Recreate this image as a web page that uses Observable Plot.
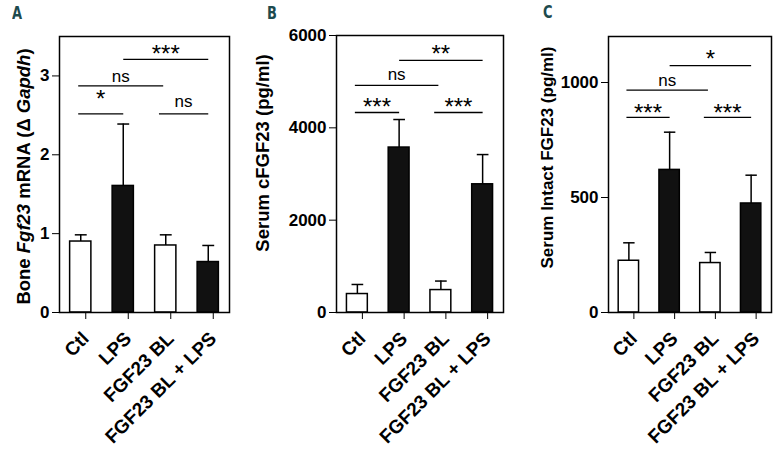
<!DOCTYPE html>
<html>
<head>
<meta charset="utf-8">
<script src="https://cdn.jsdelivr.net/npm/d3@7"></script>
<script src="https://cdn.jsdelivr.net/npm/@observablehq/plot@0.6"></script>
<style>
  body { margin: 0; background: white; }
  #wrap { position: relative; width: 779px; height: 454px; background: white; overflow: hidden; }
  .pnl { position: absolute; top: 0; }
  .pnl svg { overflow: visible; }
  .letter { position: absolute; font-family: "DejaVu Sans Condensed", "DejaVu Sans", sans-serif; font-weight: bold; font-size: 17px; line-height: 17px; color: #1d4a4e; transform: scaleX(0.85); transform-origin: left top; }
</style>
</head>
<body>
<div id="wrap"></div>
<script>
// ---------- data ----------
const groups = ["Ctl", "LPS", "FGF23 BL", "FGF23 BL + LPS"];
const hasLPS = [false, true, false, true];

// Panel A: Bone Fgf23 mRNA (relative to Gapdh)
const boneMean = [0.90, 1.605, 0.85, 0.64];
const boneErr  = [0.085, 0.785, 0.135, 0.21];
const boneTicks = [0, 1, 2, 3];
const boneSigText = ["*", "ns", "ns", "***"];
const boneSigY    = [2.52, 2.875, 2.52, 3.21];
const boneSigLabY = [2.70, 2.99, 2.67, 3.28];

// Panel B: Serum cFGF23 (pg/ml)
const cMean = [400, 3573, 486, 2777];
const cErr  = [207, 607, 195, 644];
const cTicks = [0, 2000, 4000, 6000];
const cSigText = ["***", "ns", "***", "**"];
const cSigY    = [4332, 4918, 4332, 5460];
const cSigLabY = [4435, 5156, 4435, 5600];

// Panel C: Serum Intact FGF23 (pg/ml)
const iMean = [225, 620, 215, 474];
const iErr  = [78, 164, 46, 123];
const iTicks = [0, 500, 1000];
const iSigText = ["***", "ns", "***", "*"];
const iSigY    = [848, 967, 848, 1073];
const iSigLabY = [864, 1008, 864, 1100];

// comparison brackets: group index from / to (shared by all panels)
const sigFrom = [-0.06, -0.06, 1.84, 1.0];
const sigTo   = [1.0, 1.94, 3.0, 3.0];

// ---------- drawing ----------
const FONT = "'Liberation Sans', Arial, Helvetica, sans-serif";

function panel(o) {
  const rows = groups.map((g, i) => ({i, g, mean: o.mean[i], up: o.mean[i] + o.err[i], lps: hasLPS[i]}));
  const sig = o.sigText.map((t, k) => ({label: t, from: sigFrom[k], to: sigTo[k], y: o.sigY[k], ly: o.sigLabY[k]}));
  const chart = Plot.plot({
    width: o.width, height: 454,
    marginLeft: o.ml, marginRight: o.mr, marginTop: o.mt, marginBottom: 142,
    style: {background: "transparent", fontFamily: FONT, color: "black", overflow: "visible"},
    x: {domain: [-0.5, 3.5]},
    y: {domain: o.domain},
    marks: [
      Plot.rect(rows, {x1: d => d.i - 0.25, x2: d => d.i + 0.25, y1: d => 0, y2: "mean",
        fill: d => d.lps ? "#111" : "white", stroke: "black", strokeWidth: 1.5}),
      Plot.ruleX(rows, {x: "i", y1: "mean", y2: "up", stroke: "black", strokeWidth: 1.5}),
      Plot.link(rows, {x1: d => d.i - 0.14, x2: d => d.i + 0.14, y1: "up", y2: "up", stroke: "black", strokeWidth: 1.5}),
      Plot.link(sig, {x1: "from", x2: "to", y1: "y", y2: "y", stroke: "black", strokeWidth: 1.3}),
      Plot.text(sig, {x: d => (d.from + d.to) / 2, y: "ly", text: "label",
        fontSize: d => d.label.includes("*") ? 24 : 17, fill: "black"}),
      Plot.frame({stroke: "black", strokeWidth: 1.5}),
      Plot.axisY({ticks: o.ticks, tickSize: 7, tickPadding: 3, fontSize: 17, fontWeight: "bold", label: null, tickFormat: d => String(d)}),
      Plot.axisX({ticks: [0, 1, 2, 3], tickFormat: i => groups[i], tickRotate: -45, tickSize: 7, tickPadding: 16, dx: 5,
        fontSize: 19, fontWeight: "bold", label: null}),
      Plot.text([o.label], {frameAnchor: "left", text: d => d, rotate: -90, dx: o.ldx, dy: o.ldy,
        textAnchor: "middle", lineAnchor: "middle", fontSize: o.lsize, fontWeight: "bold", fill: "black"})
    ]
  });
  const div = document.createElement("div");
  div.className = "pnl";
  div.style.left = o.left + "px";
  div.appendChild(chart);
  document.getElementById("wrap").appendChild(div);
  return chart;
}

const labelA = "Bone Fgf23 mRNA (\u0394 Gapdh)";
const chartA = panel({left: 0, width: 250, ml: 59, mr: 21, mt: 36, domain: [0, 3.5], ticks: boneTicks,
  mean: boneMean, err: boneErr, sigText: boneSigText, sigY: boneSigY, sigLabY: boneSigLabY,
  label: labelA, ldx: -35, ldy: 2, lsize: 18.5});
panel({left: 250, width: 270, ml: 86, mr: 17, mt: 35, domain: [0, 6000], ticks: cTicks,
  mean: cMean, err: cErr, sigText: cSigText, sigY: cSigY, sigLabY: cSigLabY,
  label: "Serum cFGF23 (pg/ml)", ldx: -73, ldy: -21, lsize: 18.5});
panel({left: 520, width: 259, ml: 88, mr: 8, mt: 36, domain: [0, 1200], ticks: iTicks,
  mean: iMean, err: iErr, sigText: iSigText, sigY: iSigY, sigLabY: iSigLabY,
  label: "Serum Intact FGF23 (pg/ml)", ldx: -61, ldy: -17, lsize: 17});

// italic gene names in panel A's y label
d3.select(chartA).selectAll("text").filter(function() { return this.textContent === labelA; })
  .each(function() {
    const t = d3.select(this);
    t.text(null);
    [["Bone ", false], ["Fgf23", true], [" mRNA (\u0394 ", false], ["Gapdh", true], [")", false]]
      .forEach(([s, it]) => t.append("tspan").attr("font-style", it ? "italic" : "normal").text(s));
  });

// panel letters
[["A", 12, 5], ["B", 267, 5], ["C", 543, 4]].forEach(([t, x, y]) => {
  const el = document.createElement("div");
  el.className = "letter";
  el.style.left = x + "px";
  el.style.top = y + "px";
  el.textContent = t;
  document.getElementById("wrap").appendChild(el);
});
</script>
</body>
</html>
